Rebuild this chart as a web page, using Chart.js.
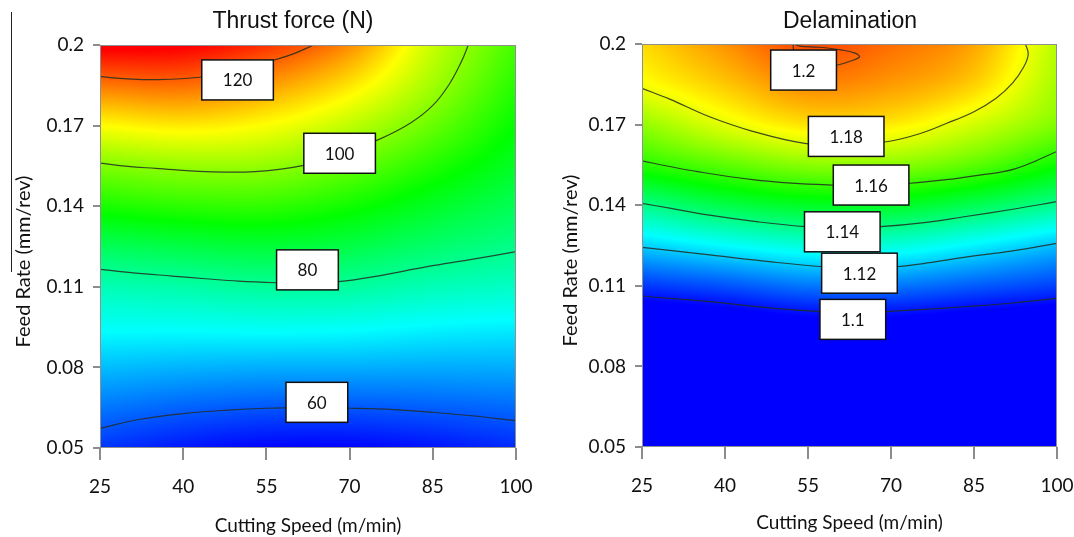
<!DOCTYPE html>
<html>
<head>
<meta charset="utf-8">
<title>Thrust force and delamination</title>
<script src="https://cdn.jsdelivr.net/npm/chart.js@4.4.1/dist/chart.umd.min.js"></script>
<style>
  html, body { margin: 0; padding: 0; background: #fff; }
  #wrap { position: relative; width: 1074px; height: 537px; overflow: hidden; }
  .panel { position: absolute; top: 0; width: 537px; height: 537px; }
  #rule { position: absolute; left: 11px; top: 12px; width: 1px; height: 260px; background: #222; }
</style>
</head>
<body>
<div id="wrap">
  <div class="panel" style="left:0"><canvas id="thrustChart" width="537" height="537"></canvas></div>
  <div class="panel" style="left:537px"><canvas id="delamChart" width="537" height="537"></canvas></div>
  <div id="rule"></div>
</div>
<script>
// grid the surfaces are sampled on
const speeds = [25, 40, 55, 70, 85, 100];
const feeds = [0.05, 0.065, 0.08, 0.095, 0.11, 0.125, 0.14, 0.155, 0.17, 0.185, 0.2];
const speedTicks = [25, 40, 55, 70, 85, 100];
const feedTicks = [0.05, 0.08, 0.11, 0.14, 0.17, 0.2];

// thrust force (N): one row per feed, one column per speed
const thrustGrid = [
  [57.8, 55.5, 54.1, 54.1, 55.2, 56.9],
  [62.5, 61.0, 60.1, 60.1, 60.7, 61.5],
  [67.5, 66.8, 66.4, 66.4, 66.2, 66.3],
  [72.7, 72.7, 73.0, 72.7, 71.7, 71.1],
  [77.4, 78.4, 79.4, 79.0, 77.3, 76.2],
  [84.0, 85.4, 86.3, 85.2, 82.6, 80.5],
  [91.9, 93.3, 93.6, 91.3, 87.6, 84.1],
  [99.4, 100.9, 100.7, 97.5, 92.6, 87.5],
  [108.4, 109.8, 108.1, 103.8, 97.5, 90.3],
  [118.0, 118.7, 115.5, 110.2, 101.7, 92.8],
  [127.8, 127.0, 123.0, 116.5, 104.5, 95.0]
];

// delamination factor, same layout
const delamGrid = [
  [1.080, 1.080, 1.081, 1.081, 1.080, 1.079],
  [1.082, 1.082, 1.083, 1.083, 1.082, 1.081],
  [1.085, 1.086, 1.087, 1.087, 1.086, 1.084],
  [1.090, 1.092, 1.095, 1.095, 1.093, 1.091],
  [1.104, 1.107, 1.111, 1.111, 1.108, 1.105],
  [1.121, 1.126, 1.130, 1.130, 1.125, 1.119],
  [1.139, 1.146, 1.150, 1.150, 1.145, 1.138],
  [1.158, 1.164, 1.169, 1.169, 1.164, 1.155],
  [1.170, 1.179, 1.185, 1.184, 1.177, 1.168],
  [1.181, 1.188, 1.195, 1.193, 1.187, 1.172],
  [1.186, 1.194, 1.202, 1.198, 1.192, 1.174]
];

// contour lines, [speed, feed]
const thrust60 = [[25,0.0573],[32,0.0606],[40,0.0628],[48,0.0641],[55,0.0648],[62,0.065],[70,0.0648],[78,0.0643],[85,0.0633],[92,0.062],[100,0.0602]];
const thrust80 = [[25,0.1165],[31,0.1152],[38,0.114],[44,0.113],[50,0.1121],[57,0.1115],[62,0.1113],[68,0.1119],[75,0.114],[84,0.1175],[92,0.1202],[100,0.1231]];
const thrust100 = [[25,0.156],[30,0.1548],[35,0.1541],[44,0.1529],[53,0.1529],[62,0.1553],[68,0.1592],[75,0.1646],[81,0.171],[85,0.1775],[88,0.1855],[90.2,0.194],[91.4,0.2]];
const thrust120 = [[25,0.1882],[30,0.1874],[35,0.1871],[43,0.188],[50,0.1905],[56.4,0.1944],[60.1,0.1969],[63.5,0.2]];

const delam110 = [[25,0.1062],[30,0.1053],[37.2,0.1041],[48,0.1018],[57.2,0.1004],[63,0.1],[69,0.1004],[76,0.1012],[83.2,0.1022],[92,0.1036],[100,0.1053]];
const delam112 = [[25,0.1243],[30,0.1232],[37.2,0.1215],[47,0.1192],[57.7,0.1171],[64,0.1167],[70.7,0.1171],[77,0.1186],[83.2,0.1206],[92,0.123],[100,0.1258]];
const delam114 = [[25,0.1407],[30,0.1389],[37.2,0.1363],[46,0.1338],[54.7,0.132],[61,0.1316],[68.1,0.132],[76,0.1335],[83.2,0.1357],[92,0.1385],[100,0.1413]];
const delam116 = [[25,0.1565],[30,0.1544],[35,0.1525],[45,0.1495],[52,0.1482],[59.3,0.1475],[66,0.1472],[72,0.1479],[80,0.1495],[86,0.1512],[92.4,0.1535],[100,0.16]];
const delam118 = [[25,0.1835],[30,0.1795],[37.2,0.1729],[45,0.1675],[54.4,0.163],[62,0.1622],[69.5,0.1637],[75,0.1665],[80.1,0.1705],[85,0.1748],[89,0.1798],[92,0.1855],[94,0.1915],[94.8,0.1962],[94.3,0.2]];
const delam120 = [[52.5,0.2],[53.5,0.1992],[57,0.1988],[61,0.1978],[63.5,0.1966],[64.3,0.1952],[62.5,0.1935],[60,0.192],[57,0.1912],[54,0.1922],[52.6,0.1955],[52.3,0.2]];

// contour label boxes: text, speed, feed
const thrustLabels = ['60', '80', '100', '120'];
const thrustLabelSpeed = [64.1, 62.4, 68.2, 49.8];
const thrustLabelFeed = [0.067, 0.1163, 0.1597, 0.187];

const delamLabels = ['1.1', '1.12', '1.14', '1.16', '1.18', '1.2'];
const delamLabelSpeed = [63.1, 64.3, 61.2, 66.4, 61.9, 54.2];
const delamLabelFeed = [0.0975, 0.1147, 0.1301, 0.1475, 0.1656, 0.1903];

Chart.defaults.font.family = 'Lato, "Noto Sans", sans-serif';
Chart.defaults.color = '#111';

// blue - cyan - green - yellow - red
function rampColor(t) {
  t = Math.min(1, Math.max(0, t));
  const stops = [[0, 0, 255], [0, 255, 255], [0, 255, 0], [255, 255, 0], [255, 0, 0]];
  const s = t * 4;
  const i = Math.min(3, Math.floor(s));
  const f = s - i;
  const a = stops[i], b = stops[i + 1];
  return [a[0] + (b[0] - a[0]) * f, a[1] + (b[1] - a[1]) * f, a[2] + (b[2] - a[2]) * f];
}

function catmull(p0, p1, p2, p3, t) {
  return p1 + 0.5 * t * (p2 - p0 + t * (2 * p0 - 5 * p1 + 4 * p2 - p3 + t * (3 * (p1 - p2) + p3 - p0)));
}

function fracIndex(arr, v) {
  let i = 0;
  while (i < arr.length - 2 && v > arr[i + 1]) i++;
  return i + (v - arr[i]) / (arr[i + 1] - arr[i]);
}

// value at one grid node, extrapolating linearly past the edges
function node(grid, r, c) {
  const nr = grid.length, nc = grid[0].length;
  if (r < 0) return 2 * node(grid, 0, c) - node(grid, 1, c);
  if (r >= nr) return 2 * node(grid, nr - 1, c) - node(grid, nr - 2, c);
  if (c < 0) return 2 * grid[r][0] - grid[r][1];
  if (c >= nc) return 2 * grid[r][nc - 1] - grid[r][nc - 2];
  return grid[r][c];
}

function sampleGrid(grid, speed, feed) {
  const fx = fracIndex(speeds, speed), fy = fracIndex(feeds, feed);
  const ix = Math.floor(fx), iy = Math.floor(fy);
  const tx = fx - ix, ty = fy - iy;
  const cols = [];
  for (let j = -1; j <= 2; j++) {
    cols.push(catmull(node(grid, iy + j, ix - 1), node(grid, iy + j, ix), node(grid, iy + j, ix + 1), node(grid, iy + j, ix + 2), tx));
  }
  return catmull(cols[0], cols[1], cols[2], cols[3], ty);
}

function makeSurface(cfg) {
  let image = null;
  return {
    id: 'surface',
    beforeDatasetsDraw(chart) {
      const { ctx, chartArea: a, scales: { x, y } } = chart;
      const w = Math.round(a.right - a.left), h = Math.round(a.bottom - a.top);
      if (!image) {
        image = document.createElement('canvas');
        image.width = w;
        image.height = h;
        const octx = image.getContext('2d');
        const img = octx.createImageData(w, h);
        for (let py = 0; py < h; py++) {
          const feed = y.getValueForPixel(a.top + py + 0.5);
          for (let px = 0; px < w; px++) {
            const speed = x.getValueForPixel(a.left + px + 0.5);
            const v = sampleGrid(cfg.grid, speed, feed);
            const c = rampColor((v - cfg.min) / (cfg.max - cfg.min));
            const k = (py * w + px) * 4;
            img.data[k] = c[0];
            img.data[k + 1] = c[1];
            img.data[k + 2] = c[2];
            img.data[k + 3] = 255;
          }
        }
        octx.putImageData(img, 0, 0);
      }
      ctx.drawImage(image, a.left, a.top, a.right - a.left, a.bottom - a.top);
    },
    afterDatasetsDraw(chart) {
      const { ctx, chartArea: a, scales: { x, y } } = chart;
      ctx.save();
      ctx.strokeStyle = '#8f8f8f';
      ctx.lineWidth = 1;
      ctx.strokeRect(a.left + 0.5, a.top + 0.5, a.right - a.left - 1, a.bottom - a.top - 1);

      ctx.font = '17px Lato';
      ctx.textAlign = 'center';
      ctx.textBaseline = 'middle';
      cfg.labels.forEach((text, i) => {
        const cx = x.getPixelForValue(cfg.labelSpeed[i]);
        const cy = y.getPixelForValue(cfg.labelFeed[i]);
        const bw = ctx.measureText(text).width + 42, bh = 40;
        ctx.fillStyle = '#fff';
        ctx.fillRect(cx - bw / 2, cy - bh / 2, bw, bh);
        ctx.strokeStyle = '#111';
        ctx.lineWidth = 1.5;
        ctx.strokeRect(cx - bw / 2, cy - bh / 2, bw, bh);
        ctx.fillStyle = '#111';
        ctx.fillText(text, cx, cy + 1);
      });
      ctx.restore();
    },
    afterDraw(chart) {
      const ctx = chart.ctx;
      ctx.save();
      ctx.font = '23px "Liberation Sans", Arial, sans-serif';
      ctx.fillStyle = '#111';
      ctx.textAlign = 'center';
      ctx.textBaseline = 'middle';
      ctx.fillText(cfg.title, cfg.titleX, 22);
      ctx.restore();
    }
  };
}

function buildChart(id, cfg) {
  const lineStyle = { showLine: true, pointRadius: 0, borderColor: 'rgba(35,45,35,0.85)', borderWidth: 1.2, tension: 0.4, fill: false };
  return new Chart(document.getElementById(id), {
    type: 'scatter',
    data: {
      datasets: cfg.contours.map(line => Object.assign({ data: line.map(p => ({ x: p[0], y: p[1] })) }, lineStyle))
    },
    options: {
      responsive: false,
      animation: false,
      events: [],
      layout: { padding: { left: 0, right: cfg.padRight, top: cfg.padTop, bottom: 0 } },
      plugins: { legend: { display: false }, tooltip: { enabled: false } },
      scales: {
        x: {
          type: 'linear',
          min: 25,
          max: 100,
          afterBuildTicks: s => { s.ticks = speedTicks.map(v => ({ value: v })); },
          afterFit: s => { s.height = cfg.xHeight; s.paddingLeft = 0; s.paddingRight = 0; },
          border: { display: false },
          grid: { drawOnChartArea: false, drawTicks: true, tickLength: 12, color: '#8c8c8c', lineWidth: 2 },
          ticks: { font: { size: 19 }, color: '#111', padding: 15, maxRotation: 0, autoSkip: false, callback: v => String(v) },
          title: { display: true, text: 'Cutting Speed (m/min)', font: { size: 19 }, color: '#111', padding: { top: 0, bottom: cfg.xTitlePad } }
        },
        y: {
          type: 'linear',
          min: 0.05,
          max: 0.2,
          afterBuildTicks: s => { s.ticks = feedTicks.map(v => ({ value: v })); },
          afterFit: s => { s.width = cfg.yWidth; s.paddingTop = 0; s.paddingBottom = 0; },
          border: { display: false },
          grid: { drawOnChartArea: false, drawTicks: true, tickLength: 7, color: '#8c8c8c', lineWidth: 2 },
          ticks: { font: { size: 19 }, color: '#111', padding: 9, autoSkip: false, callback: v => String(Number(v.toFixed(2))) },
          // en spaces at the end push the visible words a little down the axis
          title: { display: true, text: 'Feed Rate (mm/rev)\u2002\u2002\u2002', font: { size: 20 }, color: '#111', padding: { top: cfg.yTitlePad, bottom: 0 } }
        }
      }
    },
    plugins: [makeSurface(cfg)]
  });
}

buildChart('thrustChart', {
  title: 'Thrust force (N)',
  titleX: 293,
  grid: thrustGrid,
  min: 54,
  max: 126.5,
  contours: [thrust60, thrust80, thrust100, thrust120],
  labels: thrustLabels,
  labelSpeed: thrustLabelSpeed,
  labelFeed: thrustLabelFeed,
  padRight: 21,
  padTop: 45,
  xHeight: 89,
  yWidth: 100,
  xTitlePad: 0,
  yTitlePad: 12
});

buildChart('delamChart', {
  title: 'Delamination',
  titleX: 313,
  grid: delamGrid,
  min: 1.098,
  max: 1.21,
  contours: [delam110, delam112, delam114, delam116, delam118, delam120],
  labels: delamLabels,
  labelSpeed: delamLabelSpeed,
  labelFeed: delamLabelFeed,
  padRight: 17,
  padTop: 44,
  xHeight: 90,
  yWidth: 105,
  xTitlePad: 3,
  yTitlePad: 22
});
</script>
</body>
</html>
